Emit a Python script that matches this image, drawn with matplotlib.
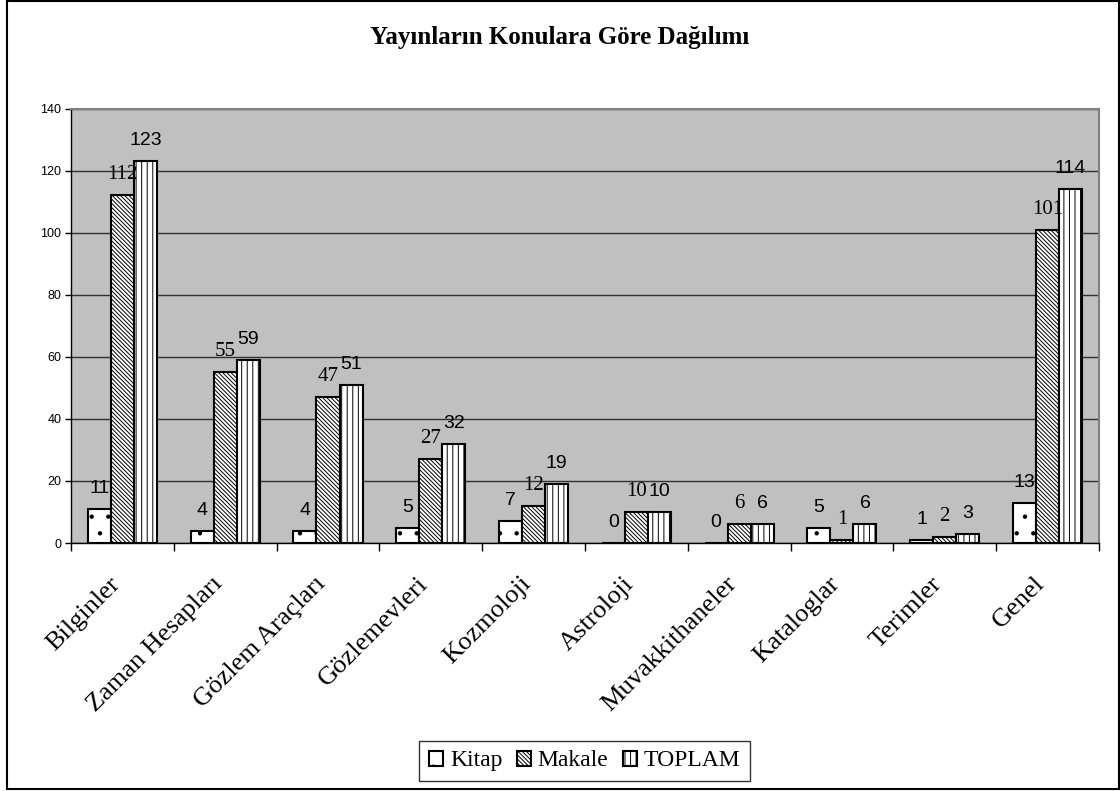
import matplotlib
matplotlib.use('Agg')
import numpy as np
import matplotlib.pyplot as plt
import matplotlib.transforms as mtransforms
from matplotlib.patches import Rectangle


categories = ['Bilginler', 'Zaman Hesapları', 'Gözlem Araçları', 'Gözlemevleri', 'Kozmoloji',
	'Astroloji', 'Muvakkithaneler', 'Kataloglar', 'Terimler', 'Genel']
kitap = [11, 4, 4, 5, 7, 0, 0, 5, 1, 13]
makale = [112, 55, 47, 27, 12, 10, 6, 1, 2, 101]
toplam = [123, 59, 51, 32, 19, 10, 6, 6, 3, 114]
series_names = ['Kitap', 'Makale', 'TOPLAM']
y_ticks = [0, 20, 40, 60, 80, 100, 120, 140]
title = 'Yayınların Konulara Göre Dağılımı'

SANS = 'Liberation Sans'
SERIF = 'Liberation Serif'


def draw_bars(ax):
	x = np.arange(len(categories))
	w = 0.224
	hatches = ['.', '\\' * 8, '|||']
	label_fonts = [SANS, SERIF, SANS]
	label_sizes = [14, 15, 14]
	for i, (vals, name) in enumerate(zip([kitap, makale, toplam], series_names)):
		xs = x + (i - 1) * w
		ax.bar(xs, vals, w, color='white', edgecolor='black', linewidth=1.5,
			hatch=hatches[i], label=name, zorder=3)
		for xi, v in zip(xs, vals):
			ax.annotate(str(v), (xi, v), xytext=(0, 11.5), textcoords='offset points',
				ha='center', va='baseline', fontsize=label_sizes[i],
				family=label_fonts[i], zorder=4)


def style_axes(ax, fig):
	ax.set_facecolor('#C0C0C0')
	ax.set_xlim(-0.5, len(categories) - 0.5)
	ax.set_ylim(0, 140)
	ax.set_yticks(y_ticks)
	ax.set_yticklabels([str(t) for t in y_ticks], family=SANS, fontsize=9)
	ax.yaxis.grid(True, color='#303030', linewidth=1, zorder=1)
	ax.set_axisbelow(True)
	ax.tick_params(axis='y', direction='out', length=4, width=1, pad=3)

	# categorie-labels op de middens, tickstreepjes op de grenzen
	ax.set_xticks(np.arange(len(categories)))
	ax.set_xticklabels(categories, rotation=45, ha='right', va='center',
		rotation_mode='anchor', family=SERIF, fontsize=19)
	ax.tick_params(axis='x', which='major', length=0, pad=27)
	shift = mtransforms.ScaledTranslation(-6 / 100, 0, fig.dpi_scale_trans)
	for lab in ax.get_xticklabels():
		lab.set_transform(lab.get_transform() + shift)
	ax.set_xticks(np.arange(-0.5, len(categories), 1), minor=True)
	ax.tick_params(axis='x', which='minor', direction='out', length=6, width=1)

	for side in ['top', 'right']:
		ax.spines[side].set_color('#808080')
		ax.spines[side].set_linewidth(1.5)
	for side in ['left', 'bottom']:
		ax.spines[side].set_color('black')
		ax.spines[side].set_linewidth(1)


def main():
	plt.rcParams['hatch.linewidth'] = 0.7
	fig = plt.figure(figsize=(11.2, 7.91), dpi=100)
	ax = fig.add_axes([0.0634, 0.3135, 0.9178, 0.5493])

	draw_bars(ax)
	style_axes(ax, fig)

	fig.text(0.5, 0.9526, title, ha='center', va='center', fontsize=18,
		weight='bold', family=SERIF)

	leg = fig.legend(loc='center', bbox_to_anchor=(0.522, 0.038), ncol=3,
		prop={'family': SERIF, 'size': 17}, frameon=True, fancybox=False,
		edgecolor='black', handlelength=0.6, handleheight=0.6,
		handletextpad=0.3, columnspacing=0.6, borderpad=0.4)
	leg.get_frame().set_linewidth(1)

	fig.patches.append(Rectangle((7 / 1120, 2 / 791), 1112 / 1120, 788 / 791,
		transform=fig.transFigure, fill=False, edgecolor='black', linewidth=1.5))

	fig.savefig('out.png', dpi=100)


if __name__ == '__main__':
	main()
